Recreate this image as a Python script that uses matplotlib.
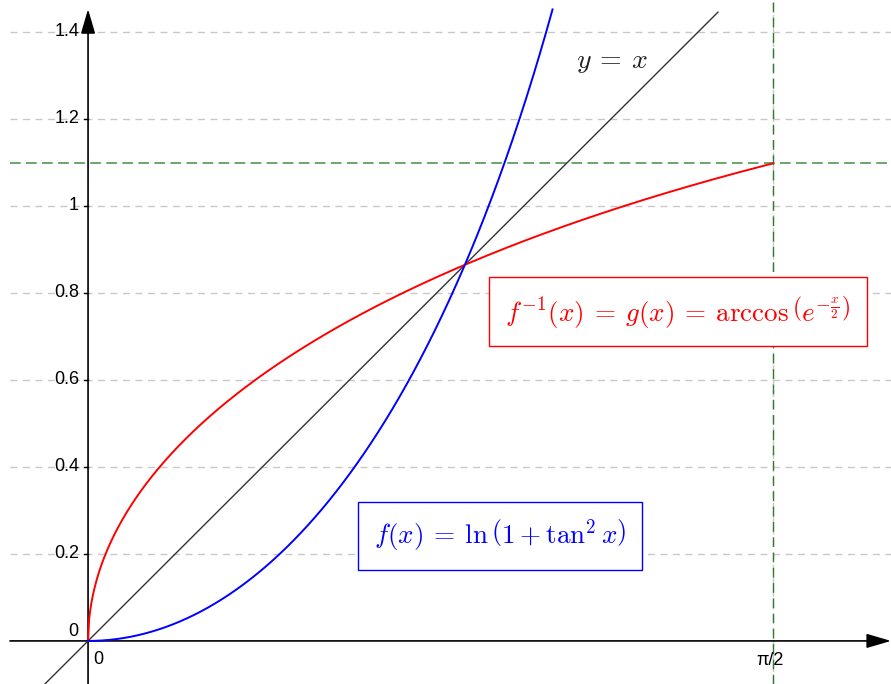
import numpy as np
import matplotlib
matplotlib.use("Agg")
import matplotlib.pyplot as plt

plt.rcParams['mathtext.fontset'] = 'cm'
plt.rcParams['font.family'] = ['Liberation Sans', 'DejaVu Sans']

# ---- data ----
y_ticks = [0.2, 0.4, 0.6, 0.8, 1.0, 1.2, 1.4]
y_tick_labels = ["0.2", "0.4", "0.6", "0.8", "1", "1.2", "1.4"]
x_ticks = [0.0, np.pi / 2]
x_tick_labels = ["0", "π/2"]
x_lim = (-0.202, 1.842)
y_lim = (-0.099, 1.473)
curve_top = 1.455          # top of the drawn curves
diag_end = 1.445           # where y = x stops
f_label = r"$f(x)\:=\:\ln\left(1 + \tan^2 x\right)$"
g_label = r"$f^{-1}(x)\:=\:g(x)\:=\:\arccos\left(e^{-\frac{x}{2}}\right)$"
diag_label = r"$y\:=\:x$"

# curves from the formulas shown in the chart
xf = np.linspace(0, 1.08, 600)
yf = np.log(1 + np.tan(xf) ** 2)
mask = yf <= curve_top
xf, yf = xf[mask], yf[mask]
xg = np.linspace(0, np.pi / 2, 600)
yg = np.arccos(np.exp(-xg / 2))
g_end = np.arccos(np.exp(-np.pi / 4))

fig = plt.figure(figsize=(8.91, 6.84), dpi=100)
ax = fig.add_axes([0, 0, 1, 1])
ax.set_xlim(*x_lim)
ax.set_ylim(*y_lim)
ax.set_axis_off()

px = (x_lim[1] - x_lim[0]) / 891.0
grid_left = x_lim[0] + 10 * px

# grid
for yv in y_ticks:
    ax.plot([grid_left, x_lim[1]], [yv, yv], color='#c8c8c8', lw=1.0,
            dashes=(5, 4), zorder=1)
ax.plot([np.pi / 2, np.pi / 2], y_lim, color='#c8c8c8', lw=1.0,
        dashes=(5, 4), zorder=1)

# green dashed lines
ax.plot([grid_left, x_lim[1]], [g_end, g_end], color='#3f9140', lw=1.1,
        dashes=(7, 3.5), zorder=2)
ax.plot([np.pi / 2, np.pi / 2], y_lim, color='#2e7a30', lw=1.0,
        dashes=(7, 4), zorder=2)

# axes with arrows
ax.annotate('', xy=(x_lim[1], 0), xytext=(grid_left, 0),
            arrowprops=dict(arrowstyle='-|>,head_length=0.75,head_width=0.22',
                            mutation_scale=20, color='black', lw=1.2,
                            shrinkA=0, shrinkB=0), zorder=3)
ax.annotate('', xy=(0, 1.452), xytext=(0, y_lim[0]),
            arrowprops=dict(arrowstyle='-|>,head_length=0.75,head_width=0.22',
                            mutation_scale=20, color='black', lw=1.2,
                            shrinkA=0, shrinkB=0), zorder=3)

# small y ticks
for yv in y_ticks:
    ax.plot([-4 * px, 0], [yv, yv], color='black', lw=1.0, zorder=3)

# tick labels
for yv, lab in zip(y_ticks, y_tick_labels):
    ax.text(-9 * px, yv, lab, ha='right', va='center', fontsize=13, zorder=5)
ax.text(-10 * px, 0.022, "0", ha='right', va='center', fontsize=13, zorder=5)
ax.text(x_ticks[0] + 5 * px, -0.042, x_tick_labels[0], ha='left', va='center',
        fontsize=13, zorder=5)
ax.text(x_ticks[1] - 3 * px, -0.045, x_tick_labels[1], ha='center',
        va='center', fontsize=13, zorder=5)

# curves
ax.plot([y_lim[0], diag_end], [y_lim[0], diag_end], color='#333333', lw=1.0,
        zorder=4)
ax.plot(xg, yg, color='#ff0000', lw=1.4, zorder=4)
ax.plot(xf, yf, color='#0000ff', lw=1.4, zorder=4)

# labels
ax.text(1.202, 1.331, diag_label, ha='center', va='center', fontsize=20,
        color='#222222', zorder=5)
ax.text(1.353, 0.757, g_label, ha='center', va='center', fontsize=19.5,
        color='#ff0000', zorder=5,
        bbox=dict(boxstyle='square,pad=0.6', fc='white', ec='#ff0000', lw=1.0))
ax.text(0.945, 0.242, f_label, ha='center', va='center', fontsize=19.5,
        color='#0000ff', zorder=5,
        bbox=dict(boxstyle='square,pad=0.6', fc='white', ec='#0000ff', lw=1.0))

fig.savefig('out.png', dpi=100)
